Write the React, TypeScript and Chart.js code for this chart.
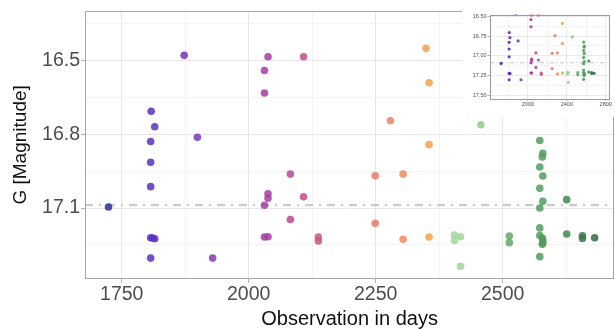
import React, { useEffect, useRef } from "react";
import { Chart, registerables } from "chart.js";
Chart.register(...registerables);

// ---------- data ----------
const days = [
  1724, 1873, 1808, 1815, 1807, 1899, 1807, 1807, 1807, 1811, 1815, 1807, 1929,
  2038, 2108, 2031, 2031, 2082, 2038, 2038, 2031, 2108, 2082, 2031, 2038, 2137, 2137,
  2249, 2249, 2279, 2304, 2304, 2349, 2355, 2355, 2355,
  2457, 2405, 2405, 2417, 2417, 2513, 2513,
  2573, 2579, 2578, 2573, 2579, 2573, 2579, 2573, 2573, 2573, 2578, 2579, 2579, 2578, 2573,
  2626, 2626, 2657, 2657, 2681,
];
const mags = [
  17.096, 16.478, 16.706, 16.769, 16.829, 16.812, 16.914, 17.013, 17.221, 17.222, 17.225, 17.304, 17.304,
  16.484, 16.484, 16.54, 16.632, 16.962, 17.042, 17.06, 17.089, 17.054, 17.147, 17.218, 17.217, 17.218, 17.234,
  16.969, 17.162, 16.745, 16.962, 17.227, 16.45, 16.59, 16.842, 17.218,
  16.761, 17.21, 17.232, 17.217, 17.337, 17.214, 17.241,
  16.825, 16.877, 16.892, 16.933, 16.97, 17.02, 17.073, 17.1, 17.181, 17.212, 17.222, 17.232, 17.242, 17.248, 17.298,
  17.066, 17.206, 17.213, 17.224, 17.221,
];
const referenceMag = 17.088;

const mainXMajor = [1750, 2000, 2250, 2500];
const mainXMinor = [1875, 2125, 2375, 2625];
const mainYMajor = [16.5, 16.8, 17.1];
const mainYMinor = [16.35, 16.65, 16.95, 17.25];

const insetXMajor = [2000, 2400, 2800];
const insetXMinor = [1800, 2200, 2600];
const insetYMajor = [16.5, 16.75, 17.0, 17.25, 17.5];
const insetYMinor = [16.625, 16.875, 17.125, 17.375];

// ---------- styling ----------
const FONT = "'Liberation Sans', Arial, Helvetica, sans-serif";
const colorStops: [number, string][] = [
  [1724, "#2b2e9c"], [1805, "#5a30c0"], [1930, "#8838b2"], [2035, "#a63ca6"],
  [2108, "#c04e8e"], [2137, "#cb5683"], [2249, "#e6786b"], [2304, "#f08a5c"],
  [2355, "#f6a04f"], [2380, "#f6a04f"], [2381, "#a3d99d"], [2417, "#9fd69a"],
  [2457, "#8fcd88"], [2513, "#62a968"], [2578, "#519c5d"], [2626, "#3f8851"],
  [2681, "#2f6b44"],
];

function hexToRgb(h: string) {
  const n = parseInt(h.slice(1), 16);
  return [(n >> 16) & 255, (n >> 8) & 255, n & 255];
}
function colorFor(day: number, alpha: number) {
  let c = hexToRgb(colorStops[0][1]);
  if (day >= colorStops[colorStops.length - 1][0]) c = hexToRgb(colorStops[colorStops.length - 1][1]);
  for (let i = 0; i < colorStops.length - 1; i++) {
    const [d0, h0] = colorStops[i];
    const [d1, h1] = colorStops[i + 1];
    if (day >= d0 && day <= d1) {
      const t = d1 === d0 ? 0 : (day - d0) / (d1 - d0);
      const a = hexToRgb(h0), b = hexToRgb(h1);
      c = [0, 1, 2].map((k) => Math.round(a[k] + (b[k] - a[k]) * t));
      break;
    }
  }
  return `rgba(${c[0]},${c[1]},${c[2]},${alpha})`;
}

const isIn = (v: number, arr: number[]) => arr.some((a) => Math.abs(a - v) < 1e-6);

const framePlugin = {
  id: "frame",
  afterDatasetsDraw(chart: any, _args: any, opts: any) {
    const { ctx, chartArea } = chart;
    const { left, top, right, bottom } = chartArea;
    ctx.save();
    ctx.strokeStyle = opts.color || "#a8a8a8";
    ctx.lineWidth = opts.width || 1;
    ctx.strokeRect(Math.round(left) + 0.5, Math.round(top) + 0.5, Math.round(right - left) - 1, Math.round(bottom - top) - 1);
    ctx.restore();
  },
};

function makeAxis(opts: {
  major: number[]; minor: number[]; min: number; max: number; reverse?: boolean;
  fit: (s: any) => void; fontSize: number; padding: number; tickLength: number;
  fmt: (v: number) => string; title?: any; majorColor: string; minorColor: string; lineWidth: number;
}) {
  const all = [...opts.major, ...opts.minor].sort((a, b) => a - b);
  return {
    type: "linear",
    min: opts.min,
    max: opts.max,
    reverse: !!opts.reverse,
    afterBuildTicks: (s: any) => { s.ticks = all.map((v) => ({ value: v })); },
    afterFit: opts.fit,
    border: { display: false },
    grid: {
      color: (c: any) => (c.tick && isIn(c.tick.value, opts.major) ? opts.majorColor : opts.minorColor),
      lineWidth: opts.lineWidth,
      drawTicks: true,
      tickLength: opts.tickLength,
      tickColor: (c: any) => (c.tick && isIn(c.tick.value, opts.major) ? "#b3b3b3" : "rgba(0,0,0,0)"),
      tickWidth: 1,
    },
    ticks: {
      autoSkip: false,
      maxRotation: 0,
      minRotation: 0,
      padding: opts.padding,
      color: "#4d4d4d",
      font: { family: FONT, size: opts.fontSize, lineHeight: 1 },
      callback: (v: number) => (isIn(v, opts.major) ? opts.fmt(v) : ""),
    },
    title: opts.title || { display: false },
  };
}

function MainChart() {
  const ref = useRef<HTMLCanvasElement>(null);
  useEffect(() => {
    const pts = days.map((d, i) => ({ x: d, y: mags[i] }));
    const xMin = 1677.7, xMax = 2719.5;
    const chart = new Chart(ref.current!, {
      type: "scatter",
      data: {
        datasets: [
          {
            type: "scatter",
            data: pts,
            order: 0,
            pointRadius: 3.8,
            pointHoverRadius: 3.8,
            borderWidth: 0,
            backgroundColor: (c: any) => colorFor(c.raw ? c.raw.x : 2000, 0.85),
          } as any,
          {
            type: "line",
            data: [{ x: xMin, y: referenceMag }, { x: xMax, y: referenceMag }],
            order: 1,
            borderColor: "rgba(200,200,200,0.95)",
            borderWidth: 2.2,
            borderDash: [8, 6, 2, 6],
            pointRadius: 0,
            fill: false,
          } as any,
        ],
      },
      options: {
        responsive: false,
        animation: false,
        devicePixelRatio: 1,
        layout: { padding: { left: 0, right: 0, top: 6, bottom: 0 } },
        plugins: { legend: { display: false }, tooltip: { enabled: false }, frame: { color: "#a6a6a6", width: 1 } } as any,
        scales: {
          x: makeAxis({
            major: mainXMajor, minor: mainXMinor, min: xMin, max: xMax,
            fit: (s: any) => { s.height = 50; },
            fontSize: 19.5, padding: 2, tickLength: 4,
            fmt: (v) => String(v),
            majorColor: "#e6e6e6", minorColor: "#f3f3f3", lineWidth: 1,
            title: {
              display: true, text: "Observation in days", color: "#111",
              font: { family: FONT, size: 20, lineHeight: 1 }, padding: { top: 3, bottom: 0 },
            },
          }) as any,
          y: makeAxis({
            major: mainYMajor, minor: mainYMinor, min: 16.297, max: 17.389, reverse: true,
            fit: (s: any) => { s.width = 85; },
            fontSize: 19.5, padding: 1, tickLength: 4,
            fmt: (v) => v.toFixed(1),
            majorColor: "#e6e6e6", minorColor: "#f3f3f3", lineWidth: 1,
            title: {
              display: true, text: "G [Magnitude]", color: "#111",
              font: { family: FONT, size: 19, lineHeight: 1 }, padding: { top: 11, bottom: 0 },
            },
          }) as any,
        },
      },
      plugins: [framePlugin],
    } as any);
    return () => chart.destroy();
  }, []);
  return <canvas ref={ref} width={618} height={329} style={{ position: "absolute", left: 0, top: 0 }} />;
}

function InsetChart() {
  const ref = useRef<HTMLCanvasElement>(null);
  useEffect(() => {
    const pts = days.map((d, i) => ({ x: d, y: mags[i] }));
    const xMin = 1610, xMax = 2844;
    const chart = new Chart(ref.current!, {
      type: "scatter",
      data: {
        datasets: [
          {
            type: "scatter",
            data: pts,
            order: 0,
            pointRadius: 1.6,
            pointHoverRadius: 1.6,
            borderWidth: 0,
            backgroundColor: (c: any) => colorFor(c.raw ? c.raw.x : 2000, 0.9),
          } as any,
          {
            type: "line",
            data: [{ x: xMin, y: referenceMag }, { x: xMax, y: referenceMag }],
            order: 1,
            borderColor: "rgba(195,195,195,0.95)",
            borderWidth: 1,
            borderDash: [4, 2.5, 1, 2.5],
            pointRadius: 0,
            fill: false,
          } as any,
        ],
      },
      options: {
        responsive: false,
        animation: false,
        devicePixelRatio: 1,
        layout: { padding: { left: 0, right: 5, top: 6.5, bottom: 0 } },
        plugins: { legend: { display: false }, tooltip: { enabled: false }, frame: { color: "#9a9a9a", width: 1 } } as any,
        scales: {
          x: makeAxis({
            major: insetXMajor, minor: insetXMinor, min: xMin, max: xMax,
            fit: (s: any) => { s.height = 18; },
            fontSize: 5.5, padding: 0.5, tickLength: 2,
            fmt: (v) => String(v),
            majorColor: "#e6e6e6", minorColor: "#f2f2f2", lineWidth: 0.8,
          }) as any,
          y: makeAxis({
            major: insetYMajor, minor: insetYMinor, min: 16.477, max: 17.547, reverse: true,
            fit: (s: any) => { s.width = 28; },
            fontSize: 5.5, padding: 1, tickLength: 2.5,
            fmt: (v) => v.toFixed(2),
            majorColor: "#e6e6e6", minorColor: "#f2f2f2", lineWidth: 0.8,
          }) as any,
        },
      },
      plugins: [framePlugin],
    } as any);
    return () => chart.destroy();
  }, []);
  return (
    <canvas
      ref={ref}
      width={153}
      height={109}
      style={{ position: "absolute", left: 462, top: 8, background: "#ffffff" }}
    />
  );
}

export default function App() {
  return (
    <div
      style={{
        position: "fixed", left: 0, top: 0, width: 615, height: 329,
        overflow: "hidden", background: "#ffffff",
      }}
    >
      <MainChart />
      <InsetChart />
    </div>
  );
}
